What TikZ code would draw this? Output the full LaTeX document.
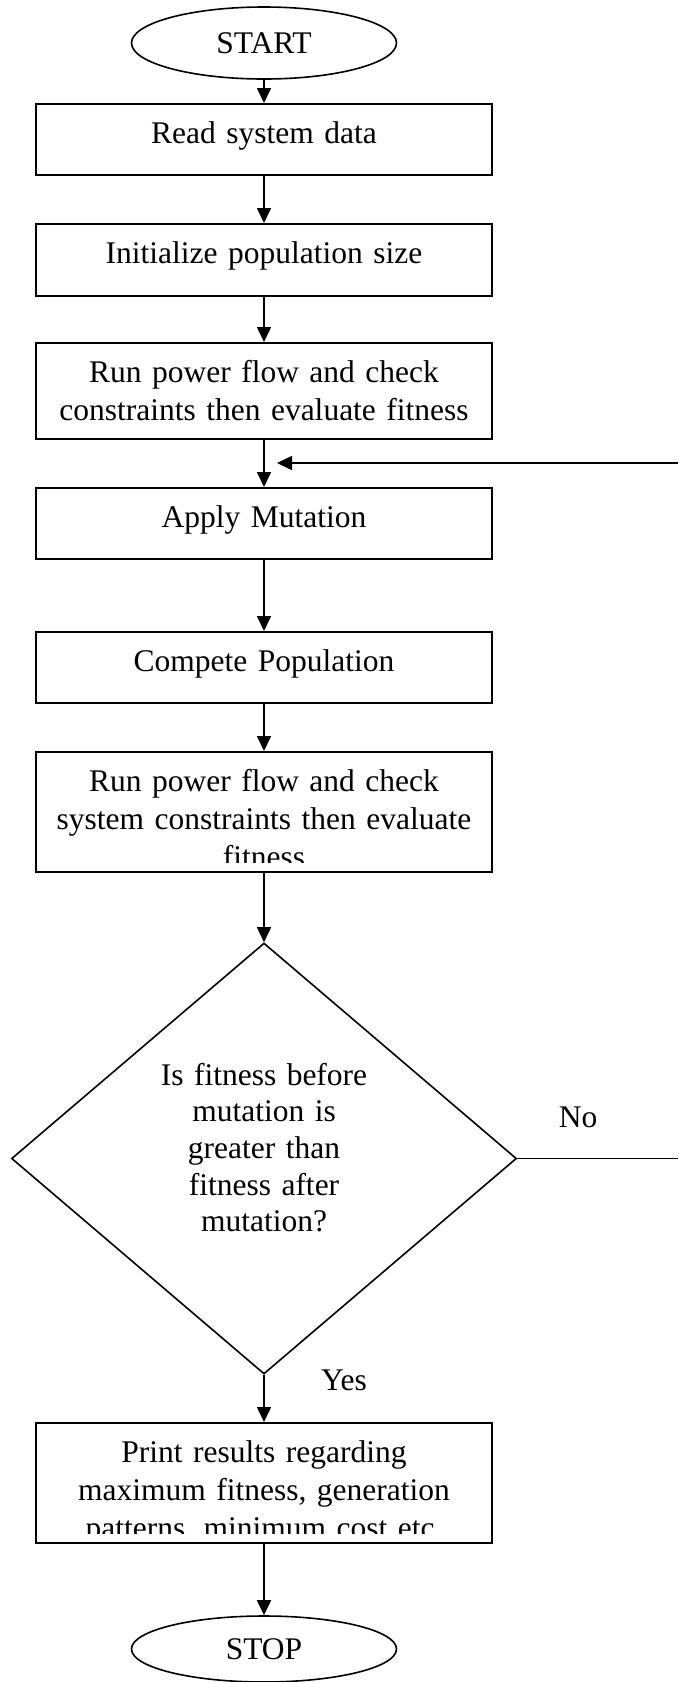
\documentclass[tikz,border=0pt]{standalone}
\usepackage{fontspec}
\setmainfont{Liberation Serif}
\usetikzlibrary{shapes.geometric,arrows.meta}
\begin{document}
\begin{tikzpicture}[x=1pt,y=-1pt,
  every node/.style={font=\fontsize{31.5}{38.3}\selectfont},
  arr/.style={line width=1.6pt,-{Triangle[length=15pt,width=14pt]}},
  plain/.style={line width=1.6pt},
  term/.style={ellipse,draw,line width=1.6pt,minimum width=265pt,inner sep=0pt},
  proc/.style={rectangle,draw,line width=2pt,minimum width=456pt,inner sep=0pt,
    text width=440pt,align=center,text height=30pt},
  ptext/.style={text width=440pt,align=center,inner sep=0pt,anchor=base},
  lbl/.style={inner sep=0pt,anchor=base}
]
\useasboundingbox (0,0) rectangle (678,1682);

% terminals
\node[term,minimum height=72pt] (start) at (264,43) {START};
\node[term,minimum height=66pt] (stop) at (264,1649) {STOP};

% process boxes
\node[proc,minimum height=71pt,text depth=23pt] (read) at (264,139.5) {Read system data};
\node[proc,minimum height=72pt,text depth=24pt] (init) at (264,260) {Initialize population size};
\node[proc,minimum height=96pt,text depth=48pt] (run1) at (264,391)
  {Run power flow and check\\constraints then evaluate fitness};
\node[proc,minimum height=71pt,text depth=23pt] (mut) at (264,523.5) {Apply Mutation};
\node[proc,minimum height=71pt,text depth=23pt] (comp) at (264,667.5) {Compete Population};
\node[proc,minimum height=120pt,text height=0pt,text depth=0pt] (run2) at (264,812) {};
\node[proc,minimum height=120pt,text height=0pt,text depth=0pt] (print) at (264,1483) {};

% clipped texts of the two tall boxes
\begin{scope}
  \clip (37,753) rectangle (491,862);
  \node[ptext] (run2t) at (264,791)
    {Run power flow and check\\system constraints then evaluate\\fitness};
\end{scope}
\begin{scope}
  \clip (37,1424) rectangle (491,1533);
  \node[ptext] (printt) at (264,1462)
    {Print results regarding\\maximum fitness, generation\\patterns, minimum cost etc.};
\end{scope}

% decision
\node[diamond,draw,line width=1.6pt,minimum width=505pt,minimum height=431pt,inner sep=0pt]
  (dec) at (264,1158.5) {};
\node[text width=260pt,align=center,inner sep=0pt,anchor=base,
  font=\fontsize{31.5}{36.7}\selectfont] (dect) at (264,1085)
  {Is fitness before\\mutation is\\greater than\\fitness after\\mutation?};

\node[lbl] (no) at (578,1127) {No};
\node[lbl] (yes) at (344,1390) {Yes};

% connectors
\draw[arr] (start.south) -- (read.north);
\draw[arr] (read.south) -- (init.north);
\draw[arr] (init.south) -- (run1.north);
\draw[arr] (run1.south) -- (mut.north);
\draw[arr] (mut.south) -- (comp.north);
\draw[arr] (comp.south) -- (run2.north);
\draw[arr] (run2.south) -- (dec.north);
\draw[arr] (dec.south) -- (print.north);
\draw[arr] (print.south) -- (stop.north);

\coordinate (noend) at (678,1158.5);
\coordinate (fbstart) at (678,463);
\coordinate (fbtip) at (277,463);
\draw[plain] (dec.east) -- (noend);
\draw[arr] (fbstart) -- (fbtip);
\end{tikzpicture}
\end{document}
